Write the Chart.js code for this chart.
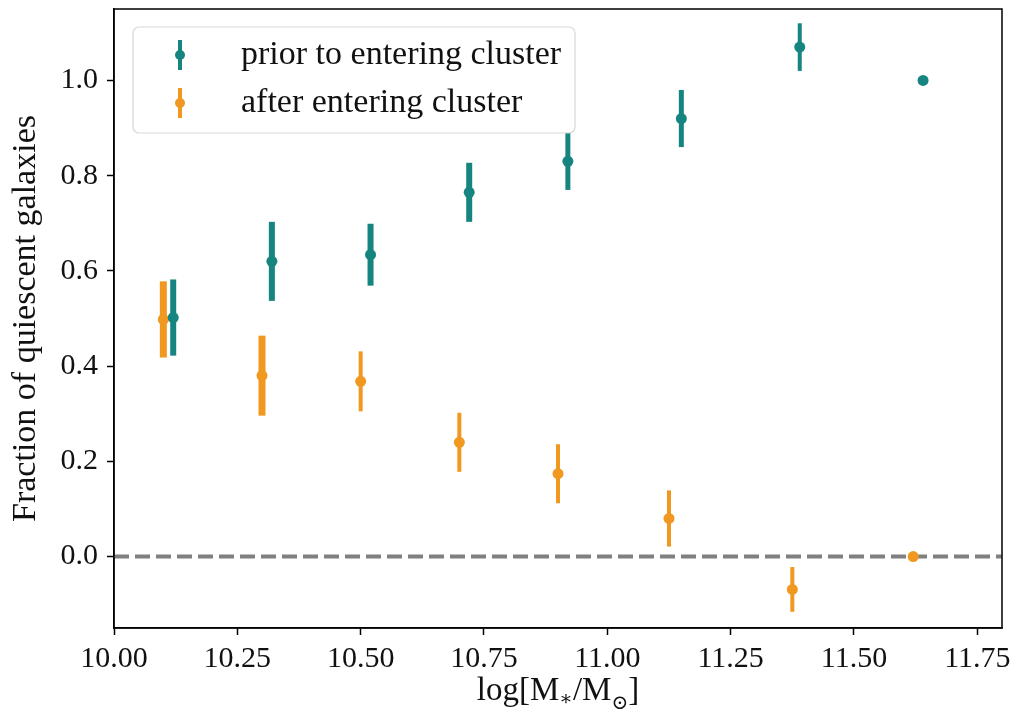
<!DOCTYPE html>
<html>
<head>
<meta charset="utf-8">
<script src="https://cdn.jsdelivr.net/npm/chart.js@4.4.0/dist/chart.umd.min.js"></script>
<style>
  html, body { margin: 0; padding: 0; background: #fff; }
  #wrap { width: 1019px; height: 718px; }
</style>
</head>
<body>
<div id="wrap"><canvas id="fracChart" width="1019" height="718"></canvas></div>
<script>
// values
const priorMass = [10.12, 10.32, 10.52, 10.72, 10.92, 11.15, 11.39, 11.64];
const priorFrac = [0.502, 0.62, 0.634, 0.765, 0.83, 0.92, 1.07, 1.00];
const priorErr  = [0.08, 0.083, 0.065, 0.062, 0.06, 0.06, 0.05, 0];
const afterMass = [10.10, 10.30, 10.50, 10.70, 10.90, 11.125, 11.375, 11.62];
const afterFrac = [0.498, 0.38, 0.368, 0.24, 0.174, 0.08, -0.069, 0.0];
const afterErr  = [0.08, 0.084, 0.063, 0.062, 0.062, 0.059, 0.047, 0];
const xTicks = [10.00, 10.25, 10.50, 10.75, 11.00, 11.25, 11.50, 11.75];
const yTicks = [0.0, 0.2, 0.4, 0.6, 0.8, 1.0];

const TEAL = '#16857f';
const ORANGE = '#f0981f';
const FONT = '"Liberation Serif", "DejaVu Serif", serif';

// error bar widths (px) per point, just styling
const priorBarW = [6, 6, 6, 6, 5, 5, 4, 0];
const afterBarW = [7, 7, 4, 4, 4, 4, 4, 0];

const toPts = (xs, ys) => xs.map((x, i) => ({ x: x, y: ys[i] }));

// vertical error bars, drawn with the chart's own scales
const errorBars = {
  id: 'errorBars',
  beforeDatasetsDraw(chart) {
    const { ctx, scales: { x, y } } = chart;
    ctx.save();
    chart.data.datasets.forEach(ds => {
      if (!ds.yErr) return;
      ds.data.forEach((p, i) => {
        const e = ds.yErr[i];
        if (!e) return;
        const px = x.getPixelForValue(p.x);
        ctx.strokeStyle = ds.backgroundColor;
        ctx.lineWidth = ds.barW[i];
        ctx.beginPath();
        ctx.moveTo(px, y.getPixelForValue(p.y - e));
        ctx.lineTo(px, y.getPixelForValue(p.y + e));
        ctx.stroke();
      });
    });
    ctx.restore();
  }
};

// frame, legend box and x title with subscripts
const decorations = {
  id: 'decorations',
  afterDraw(chart) {
    const { ctx, chartArea: a } = chart;
    ctx.save();
    ctx.strokeStyle = '#000';
    ctx.lineWidth = 1.5;
    ctx.strokeRect(a.left, a.top, a.right - a.left, a.bottom - a.top);

    // legend
    const lx = 133, ly = 27, lw = 442, lh = 106;
    ctx.beginPath();
    ctx.roundRect(lx, ly, lw, lh, 6);
    ctx.fillStyle = 'rgba(255,255,255,0.8)';
    ctx.fill();
    ctx.strokeStyle = '#d8d8d8';
    ctx.lineWidth = 1.2;
    ctx.stroke();
    const items = [
      { label: 'prior to entering cluster', color: TEAL, y: 55 },
      { label: 'after entering cluster', color: ORANGE, y: 103 }
    ];
    items.forEach(it => {
      ctx.strokeStyle = it.color;
      ctx.lineWidth = 4;
      ctx.beginPath();
      ctx.moveTo(180, it.y - 15);
      ctx.lineTo(180, it.y + 15);
      ctx.stroke();
      ctx.fillStyle = it.color;
      ctx.beginPath();
      ctx.arc(180, it.y, 5, 0, Math.PI * 2);
      ctx.fill();
      ctx.fillStyle = '#111';
      ctx.font = '34px ' + FONT;
      ctx.textBaseline = 'middle';
      ctx.textAlign = 'left';
      ctx.fillText(it.label, 241, it.y);
    });

    // x title: log[M*/M(sun)]
    const parts = [
      { t: 'log[M', s: 33, dy: 0 },
      { t: '\u2217', s: 20, dy: 5 },
      { t: '/M', s: 33, dy: 0 },
      { t: '\u2299', s: 20, dy: 9 },
      { t: ']', s: 33, dy: 0 }
    ];
    let total = 0;
    parts.forEach(p => { ctx.font = p.s + 'px ' + FONT; p.w = ctx.measureText(p.t).width; total += p.w; });
    let cx = (a.left + a.right) / 2 - total / 2;
    const by = 700;
    ctx.fillStyle = '#111';
    ctx.textBaseline = 'alphabetic';
    parts.forEach(p => {
      ctx.font = p.s + 'px ' + FONT;
      ctx.fillText(p.t, cx, by + p.dy);
      cx += p.w;
    });
    ctx.restore();
  }
};

const ctx = document.getElementById('fracChart').getContext('2d');
new Chart(ctx, {
  type: 'scatter',
  data: {
    datasets: [
      {
        label: 'prior to entering cluster',
        data: toPts(priorMass, priorFrac),
        yErr: priorErr,
        barW: priorBarW,
        backgroundColor: TEAL,
        borderColor: TEAL,
        pointRadius: 5.5,
        borderWidth: 0,
        order: 1
      },
      {
        label: 'after entering cluster',
        data: toPts(afterMass, afterFrac),
        yErr: afterErr,
        barW: afterBarW,
        backgroundColor: ORANGE,
        borderColor: ORANGE,
        pointRadius: 5.5,
        borderWidth: 0,
        order: 2
      },
      {
        type: 'line',
        label: 'zero',
        data: [{ x: 10.0, y: 0 }, { x: 11.8, y: 0 }],
        borderColor: '#808080',
        borderWidth: 4,
        borderDash: [15, 6],
        pointRadius: 0,
        order: 3
      }
    ]
  },
  options: {
    responsive: false,
    animation: false,
    devicePixelRatio: 1,
    layout: { padding: { top: 9, right: 17, left: 0, bottom: 0 } },
    plugins: {
      legend: { display: false },
      tooltip: { enabled: false }
    },
    scales: {
      x: {
        type: 'linear',
        min: 10.0,
        max: 11.8,
        afterFit: s => { s.height = 90; },
        afterBuildTicks: s => { s.ticks = xTicks.map(v => ({ value: v })); },
        grid: { drawOnChartArea: false, drawTicks: true, tickLength: 7, tickWidth: 1.5, tickColor: '#000' },
        border: { display: true, color: '#000', width: 1.5 },
        ticks: {
          padding: 6,
          color: '#111',
          font: { family: FONT, size: 30 },
          maxRotation: 0,
          callback: v => v.toFixed(2)
        }
      },
      y: {
        type: 'linear',
        min: -0.15,
        max: 1.15,
        afterFit: s => { s.width = 114; s.paddingTop = 0; s.paddingBottom = 0; },
        afterBuildTicks: s => { s.ticks = yTicks.map(v => ({ value: v })); },
        grid: { drawOnChartArea: false, drawTicks: true, tickLength: 7, tickWidth: 1.5, tickColor: '#000' },
        border: { display: true, color: '#000', width: 1.5 },
        ticks: {
          padding: 9,
          color: '#111',
          font: { family: FONT, size: 30 },
          callback: v => v.toFixed(1)
        },
        title: {
          display: true,
          text: 'Fraction of quiescent galaxies',
          color: '#111',
          font: { family: FONT, size: 34 },
          padding: { top: 6, bottom: 0 }
        }
      }
    }
  },
  plugins: [errorBars, decorations]
});
</script>
</body>
</html>
